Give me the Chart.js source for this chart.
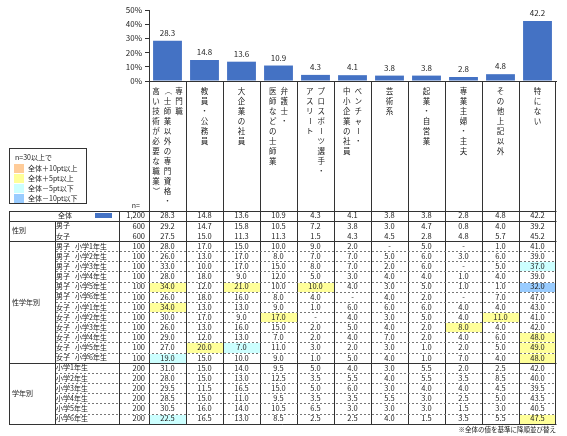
<!DOCTYPE html>
<html lang="ja">
<head>
<meta charset="utf-8">
<script src="https://cdn.jsdelivr.net/npm/chart.js@4.4.1/dist/chart.umd.min.js"></script>
<style>
  html, body { margin: 0; padding: 0; background: #fff; }
</style>
</head>
<body>
<canvas id="myChart" width="567" height="436"></canvas>
<script>
// カテゴリ（全体の値で降順）
const categories = [
  '専門職（士師業以外の専門資格・高い技術が必要な職業）',
  '教員・公務員', '大企業の社員', '弁護士・医師などの士師業',
  'プロスポーツ選手・アスリート', 'ベンチャー・中小企業の社員',
  '芸術系', '起業・自営業', '専業主婦・主夫', 'その他上記以外', '特にない'
];
// 縦書きラベルの列（右の列から）
const labelColumns = [
  ['専門職', '（士師業以外の専門資格・', '高い技術が必要な職業）'],
  ['教員・公務員'], ['大企業の社員'], ['弁護士・', '医師などの士師業'],
  ['プロスポーツ選手・', 'アスリート'], ['ベンチャー・', '中小企業の社員'],
  ['芸術系'], ['起業・自営業'], ['専業主婦・主夫'], ['その他上記以外'], ['特にない']
];
const yTicks = [0, 10, 20, 30, 40, 50];

const totalN = 1200;
const totalValues = [28.3, 14.8, 13.6, 10.9, 4.3, 4.1, 3.8, 3.8, 2.8, 4.8, 42.2];

const genderLabels = ['男子', '女子'];
const genderN = [600, 600];
const genderValues = [
  [29.2, 14.7, 15.8, 10.5, 7.2, 3.8, 3.0, 4.7, 0.8, 4.0, 39.2],
  [27.5, 15.0, 11.3, 11.3, 1.5, 4.3, 4.5, 2.8, 4.8, 5.7, 45.2]
];

const genderGradeLabels = [
  '男子 小学1年生', '男子 小学2年生', '男子 小学3年生', '男子 小学4年生', '男子 小学5年生', '男子 小学6年生',
  '女子 小学1年生', '女子 小学2年生', '女子 小学3年生', '女子 小学4年生', '女子 小学5年生', '女子 小学6年生'
];
const genderGradeN = [100, 100, 100, 100, 100, 100, 100, 100, 100, 100, 100, 100];
const genderGradeValues = [
  [28.0, 17.0, 15.0, 10.0, 9.0, 2.0, null, 5.0, null, 1.0, 41.0],
  [26.0, 13.0, 17.0, 8.0, 7.0, 7.0, 5.0, 6.0, 3.0, 6.0, 39.0],
  [33.0, 10.0, 17.0, 15.0, 8.0, 7.0, 2.0, 6.0, null, 5.0, 37.0],
  [28.0, 18.0, 9.0, 12.0, 5.0, 3.0, 4.0, 4.0, 1.0, 4.0, 39.0],
  [34.0, 12.0, 21.0, 10.0, 10.0, 4.0, 3.0, 5.0, 1.0, 1.0, 32.0],
  [26.0, 18.0, 16.0, 8.0, 4.0, null, 4.0, 2.0, null, 7.0, 47.0],
  [34.0, 13.0, 13.0, 9.0, 1.0, 6.0, 6.0, 6.0, 4.0, 4.0, 43.0],
  [30.0, 17.0, 9.0, 17.0, null, 4.0, 3.0, 5.0, 4.0, 11.0, 41.0],
  [26.0, 13.0, 16.0, 15.0, 2.0, 5.0, 4.0, 2.0, 8.0, 4.0, 42.0],
  [29.0, 12.0, 13.0, 7.0, 2.0, 4.0, 7.0, 2.0, 4.0, 6.0, 48.0],
  [27.0, 20.0, 7.0, 11.0, 3.0, 2.0, 3.0, 1.0, 2.0, 5.0, 49.0],
  [19.0, 15.0, 10.0, 9.0, 1.0, 5.0, 4.0, 1.0, 7.0, 4.0, 48.0]
];

const gradeLabels = ['小学1年生', '小学2年生', '小学3年生', '小学4年生', '小学5年生', '小学6年生'];
const gradeN = [200, 200, 200, 200, 200, 200];
const gradeValues = [
  [31.0, 15.0, 14.0, 9.5, 5.0, 4.0, 3.0, 5.5, 2.0, 2.5, 42.0],
  [28.0, 15.0, 13.0, 12.5, 3.5, 5.5, 4.0, 5.5, 3.5, 8.5, 40.0],
  [29.5, 11.5, 16.5, 15.0, 5.0, 6.0, 3.0, 4.0, 4.0, 4.5, 39.5],
  [28.5, 15.0, 11.0, 9.5, 3.5, 3.5, 5.5, 3.0, 2.5, 5.0, 43.5],
  [30.5, 16.0, 14.0, 10.5, 6.5, 3.0, 3.0, 3.0, 1.5, 3.0, 40.5],
  [22.5, 16.5, 13.0, 8.5, 2.5, 2.5, 4.0, 1.5, 3.5, 5.5, 47.5]
];

const legendItems = ['全体＋10pt以上', '全体＋5pt以上', '全体－5pt以下', '全体－10pt以下'];
const legendColors = ['#FFCC99', '#FFFF99', '#CCFFFF', '#99CCFF'];

const FONT = '"Noto Sans CJK JP", "Noto Sans", sans-serif';
const BAR = '#4472C4';
const LINE = '#333333';
const TEXT = '#222222';

// n=30以上で全体との差を判定
function cellColor(v, base, n) {
  if (n < 30) return null;
  const d = (v == null ? 0 : v) - base;
  if (d >= 10) return legendColors[0];
  if (d >= 5) return legendColors[1];
  if (d <= -10) return legendColors[3];
  if (d <= -5) return legendColors[2];
  return null;
}

function px(v) { return Math.round(v) + 0.5; }

const tablePlugin = {
  id: 'tablePlugin',
  afterDraw(chart) {
    const ctx = chart.ctx;
    const xs = chart.scales.x;
    const area = chart.chartArea;
    const colW = (area.right - area.left) / categories.length;
    const meta = chart.getDatasetMeta(0);

    ctx.save();
    ctx.fillStyle = TEXT;

    // 値ラベル
    ctx.font = '8px ' + FONT;
    ctx.textAlign = 'center';
    ctx.textBaseline = 'middle';
    meta.data.forEach((bar, i) => {
      ctx.fillText(totalValues[i].toFixed(1), bar.x, bar.y - 8);
    });

    // 縦書きカテゴリラベル
    const rotated = 'ー（）';
    ctx.font = '7.5px ' + FONT;
    labelColumns.forEach((cols, i) => {
      const cx = xs.getPixelForValue(i);
      cols.forEach((col, j) => {
        const lx = cx + (cols.length - 1) / 2 * 11.5 - j * 11.5;
        Array.from(col).forEach((ch, k) => {
          const ly = 91 + k * 10;
          if (rotated.includes(ch)) {
            ctx.save();
            ctx.translate(lx, ly);
            ctx.rotate(Math.PI / 2);
            ctx.fillText(ch, 0, 0);
            ctx.restore();
          } else {
            ctx.fillText(ch, lx, ly);
          }
        });
      });
    });

    // 表の行
    const rows = [];
    rows.push({ label: '全体', n: totalN, values: totalValues, total: true });
    genderLabels.forEach((l, i) => rows.push({ label: l, n: genderN[i], values: genderValues[i] }));
    genderGradeLabels.forEach((l, i) => rows.push({ label: l, n: genderGradeN[i], values: genderGradeValues[i] }));
    gradeLabels.forEach((l, i) => rows.push({ label: l, n: gradeN[i], values: gradeValues[i] }));

    const tableTop = 210.5;
    const rowH = 10.15;
    const left = 9, groupRight = 55, labelRight = 119;
    const rowY = r => tableTop + r * rowH;

    // セルの背景
    rows.forEach((row, r) => {
      row.values.forEach((v, c) => {
        if (row.total) return;
        const color = cellColor(v, totalValues[c], row.n);
        if (color) {
          const x0 = Math.round(xs.getPixelForValue(c) - colW / 2);
          ctx.fillStyle = color;
          ctx.fillRect(x0 + 1, Math.round(rowY(r)) + 1, Math.round(colW) - 1, Math.round(rowY(r + 1)) - Math.round(rowY(r)) - 1);
        }
      });
    });

    // 全体行の棒アイコン
    ctx.fillStyle = BAR;
    ctx.fillRect(95, 213, 17, 5);

    // 文字
    ctx.fillStyle = TEXT;
    rows.forEach((row, r) => {
      const cy = (rowY(r) + rowY(r + 1)) / 2;
      ctx.font = '7px ' + FONT;
      ctx.textAlign = 'left';
      const parts = row.label.split(' ');
      ctx.fillText(parts[0], row.total ? 58 : 56, cy);
      if (parts[1]) ctx.fillText(parts[1], 75, cy);
      ctx.font = '7.5px ' + FONT;
      ctx.textAlign = 'right';
      ctx.fillText(row.n.toLocaleString('en-US'), 145, cy);
      ctx.textAlign = 'center';
      row.values.forEach((v, c) => {
        ctx.fillText(v == null ? '-' : v.toFixed(1), xs.getPixelForValue(c), cy);
      });
    });
    ctx.font = '7px ' + FONT;
    ctx.textAlign = 'left';
    ctx.fillText('性別', 12, (rowY(1) + rowY(3)) / 2);
    ctx.fillText('性学年別', 12, (rowY(3) + rowY(15)) / 2);
    ctx.fillText('学年別', 12, (rowY(15) + rowY(21)) / 2);
    ctx.textAlign = 'right';
    ctx.fillText('n=', 140, 205);

    // 罫線
    ctx.strokeStyle = LINE;
    ctx.lineWidth = 1;
    ctx.setLineDash([]);
    [0, 1, 3, 15, 21].forEach(r => {
      ctx.beginPath();
      ctx.moveTo(left, px(rowY(r)));
      ctx.lineTo(area.right + 0.5, px(rowY(r)));
      ctx.stroke();
    });
    const bottom = px(rowY(21));
    const vLine = (x, y0, y1) => {
      ctx.beginPath();
      ctx.moveTo(px(x), y0);
      ctx.lineTo(px(x), y1);
      ctx.stroke();
    };
    vLine(left, px(rowY(0)), bottom);
    vLine(groupRight, px(rowY(1)), bottom);
    vLine(labelRight, px(rowY(0)), bottom);
    for (let c = 0; c <= categories.length; c++) {
      vLine(area.left + c * colW - (c === categories.length ? 1 : 0), area.bottom, bottom);
    }
    ctx.strokeStyle = '#777777';
    ctx.setLineDash([2, 2]);
    for (let r = 4; r < 21; r++) {
      if (r === 15) continue;
      ctx.beginPath();
      ctx.moveTo(groupRight + 1, px(rowY(r)));
      ctx.lineTo(area.right, px(rowY(r)));
      ctx.stroke();
    }
    ctx.setLineDash([]);

    // 凡例
    ctx.strokeStyle = LINE;
    ctx.strokeRect(9.5, 148.5, 77, 55);
    ctx.fillStyle = TEXT;
    ctx.font = '7px ' + FONT;
    ctx.textAlign = 'left';
    ctx.fillText('n=30以上で', 15, 157);
    legendItems.forEach((t, i) => {
      const y = 164 + i * 10;
      ctx.fillStyle = legendColors[i];
      ctx.fillRect(14, y, 10, 9);
      ctx.fillStyle = TEXT;
      ctx.fillText(t, 28, y + 4.5);
    });

    // 注記
    ctx.font = '6.5px ' + FONT;
    ctx.textAlign = 'right';
    ctx.fillText('※全体の値を基準に降順並び替え', 556, 430);

    ctx.restore();
  }
};

const ctx = document.getElementById('myChart').getContext('2d');
const chart = new Chart(ctx, {
  type: 'bar',
  data: {
    labels: categories,
    datasets: [{
      label: '全体',
      data: totalValues,
      backgroundColor: BAR,
      borderWidth: 0,
      barPercentage: 0.78,
      categoryPercentage: 1
    }]
  },
  options: {
    responsive: false,
    animation: false,
    layout: { padding: { left: 100, right: 11, top: 10, bottom: 355 } },
    plugins: {
      legend: { display: false },
      tooltip: { enabled: false }
    },
    scales: {
      x: {
        grid: { display: false },
        ticks: { display: false },
        border: { color: LINE },
        afterFit: s => { s.height = 0; }
      },
      y: {
        min: 0,
        max: 50,
        afterBuildTicks: s => { s.ticks = yTicks.map(v => ({ value: v })); },
        afterFit: s => { s.width = 49; },
        grid: { drawOnChartArea: false, drawTicks: true, tickLength: 4, color: LINE },
        border: { color: LINE },
        ticks: {
          font: { family: FONT, size: 8 },
          color: TEXT,
          padding: 3,
          callback: v => v + '%'
        }
      }
    }
  },
  plugins: [tablePlugin]
});
</script>
</body>
</html>
